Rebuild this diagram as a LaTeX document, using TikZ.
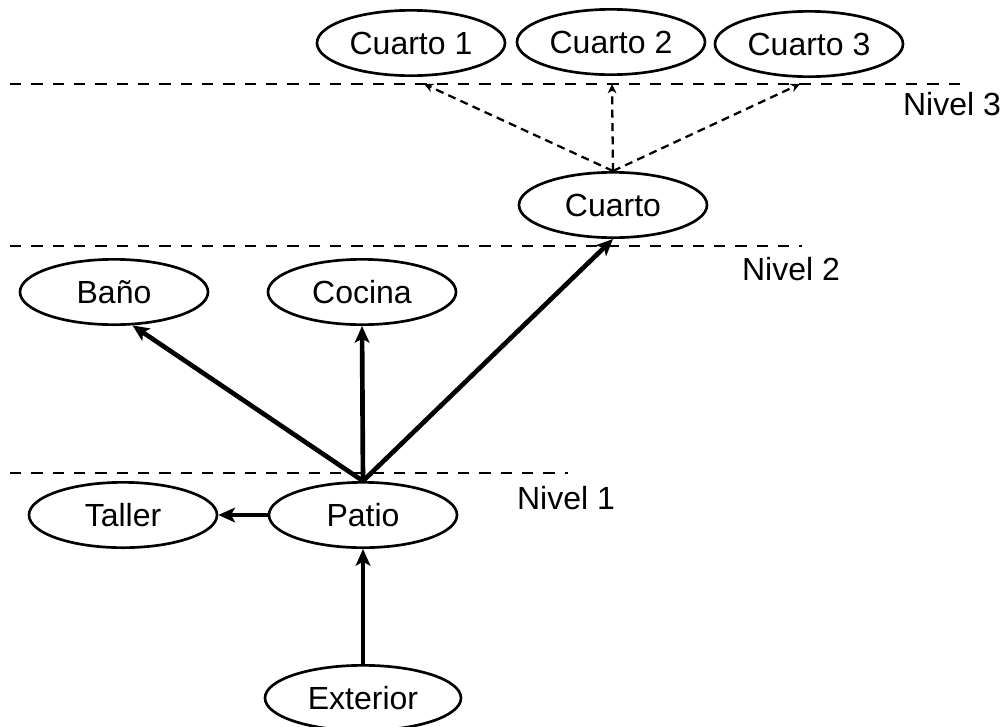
\documentclass[tikz,border=0pt]{standalone}
\usepackage{fontspec}
\setmainfont{Liberation Sans}
\usetikzlibrary{arrows.meta,shapes.geometric}
\begin{document}
\begin{tikzpicture}[x=0.75pt,y=-0.75pt,
  labelfont/.style={font=\fontsize{24}{28}\selectfont},
  room/.style={ellipse,draw,line width=2pt,minimum width=141pt,
    minimum height=49pt,inner sep=0pt,labelfont},
  level/.style={line width=2pt,dash pattern=on 8.5pt off 7.5pt},
  levellabel/.style={inner sep=0pt,labelfont},
  move/.style={line width=3.5pt,-{Stealth[length=12.5pt,width=11pt,inset=3pt]}},
  peek/.style={line width=1.7pt,dash pattern=on 6pt off 4pt,
    -{Stealth[length=7pt,width=6.5pt]}}]
\useasboundingbox (0,0) rectangle (1007,726);

% level separators
\draw[level] (10,84) -- (963,84);
\draw[level] (10,246) -- (802,246);
\draw[level] (10,473) -- (568,473);
\node[levellabel] (n3) at (952,104) {Nivel 3};
\node[levellabel] (n2) at (791,269) {Nivel 2};
\node[levellabel] (n1) at (566,498) {Nivel 1};

% rooms
\node[room] (c1) at (411,43) {Cuarto 1};
\node[room] (c2) at (611,42) {Cuarto 2};
\node[room] (c3) at (809,44) {Cuarto 3};
\node[room] (cuarto) at (613,205) {Cuarto};
\node[room] (bano) at (114,292) {Baño};
\node[room] (cocina) at (362,292) {Cocina};
\node[room] (taller) at (123,515) {Taller};
\node[room] (patio) at (363,515) {Patio};
\node[room,minimum width=147pt] (exterior) at (363,698) {Exterior};

% dashed arrows stop on the level 3 line
\coordinate (t1) at (424,84);
\coordinate (t2) at (612,84);
\coordinate (t3) at (800,84);
\draw[peek] (cuarto.north) -- (t1);
\draw[peek] (cuarto.north) -- (t2);
\draw[peek] (cuarto.north) -- (t3);

% solid moves
\draw[move] (patio.north) -- (bano.-61);
\draw[move] (patio.north) -- (cocina.south);
\draw[move] (patio.north) -- (cuarto.south);
\draw[move] (patio.west) -- (taller.east);
\draw[move] (exterior.north) -- (patio.south);
\end{tikzpicture}
\end{document}
